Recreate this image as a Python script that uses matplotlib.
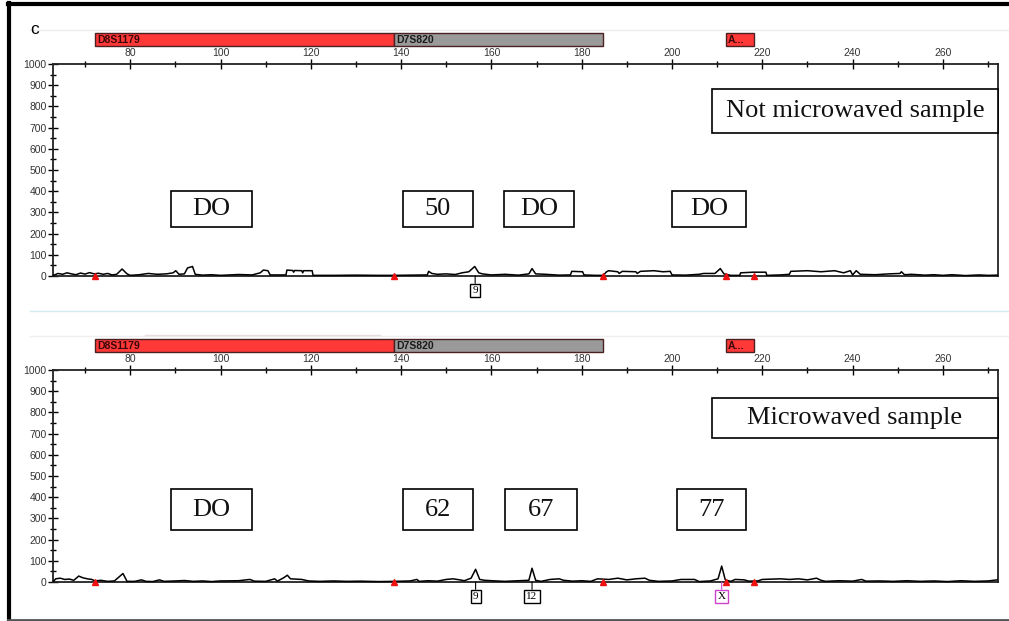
import matplotlib
matplotlib.use("Agg")
import matplotlib.pyplot as plt
from matplotlib.patches import Rectangle
from matplotlib.lines import Line2D
from matplotlib.ticker import MultipleLocator
import matplotlib.transforms as mtransforms

# ---------------- data ----------------
panel_titles = ["Not microwaved sample", "Microwaved sample"]

marker_names = ["D8S1179", "D7S820", "A..."]
marker_starts = [72.2, 138.5, 212.0]
marker_ends = [138.5, 184.8, 218.2]
marker_colors = ["#ff3838", "#9a9a9a", "#ff3838"]
bin_edges = [72.2, 138.5, 184.8, 212.0, 218.2]

x_ticks = [80, 100, 120, 140, 160, 180, 200, 220, 240, 260]
y_ticks = [0, 100, 200, 300, 400, 500, 600, 700, 800, 900, 1000]

trace1_bp = [63, 64, 65, 66, 67, 68, 69, 70, 71, 72, 73, 74, 75, 76, 77, 78.2, 79.3, 80, 82, 84, 86, 88,
             89.5, 90.1, 90.8, 92, 92.7, 93.8, 94.4, 96, 98, 100, 104, 107, 108.8, 109.5, 110.5, 111,
             114.5, 114.7, 116, 116.2, 116.4, 118, 118.2, 118.4, 120.3, 120.5, 125, 130, 135, 138.5, 142,
             145.8, 146.1, 146.8, 148, 150, 152, 153.5, 155, 156.3, 157.2, 158, 160, 163, 166, 168.3, 169,
             169.8, 172, 175, 177.5, 177.8, 180.2, 180.5, 183, 184.8, 185.5, 186, 188, 188.3, 189, 192,
             192.3, 193, 196, 198, 199.6, 200, 203, 206, 207, 209.5, 210.7, 211.5, 213, 215, 215.2, 218,
             220.8, 221, 224, 226, 226.3, 230, 233, 236, 238, 239.5, 240, 240.8, 241.7, 245, 248, 250.5,
             250.8, 251.5, 253, 256, 258, 260, 262, 265, 268, 270, 272]
trace1_rfu = [3, 12, 8, 15, 10, 6, 14, 9, 16, 10, 13, 8, 12, 5, 8, 33, 10, 3, 6, 12, 8, 10,
              15, 25, 8, 10, 38, 45, 8, 4, 6, 3, 7, 5, 15, 28, 25, 5,
              5, 28, 26, 18, 26, 25, 15, 25, 25, 3, 3, 4, 3, 3, 4,
              5, 22, 12, 8, 10, 7, 15, 20, 45, 15, 10, 5, 8, 4, 10, 35,
              10, 8, 4, 5, 22, 20, 5, 3, 3, 20, 25, 20, 12, 22, 20,
              12, 22, 25, 20, 22, 5, 4, 8, 12, 12, 35, 10, 3, 3, 15, 18,
              18, 3, 5, 8, 22, 25, 20, 25, 15, 25, 5, 25, 8, 6, 10, 12,
              20, 6, 8, 4, 6, 3, 6, 2, 5, 3, 4]

trace2_bp = [63, 63.5, 64.5, 65.5, 66.5, 67.5, 68.6, 69.5, 70.5, 71.5, 72.2, 73.5, 75, 76.5, 78.4, 79.3,
             81, 82.5, 83.5, 85, 86.5, 87.5, 90, 92, 94, 96, 98, 100, 104, 106.5, 107.5, 110, 112, 112.6,
             114, 114.8, 115.5, 118, 119.5, 122, 125, 128, 131, 135, 138.5, 142, 143.5, 144, 146, 148, 150,
             151.5, 153, 154, 155.5, 156.5, 157.4, 158.5, 161, 163, 166, 168.3, 169, 169.8, 171, 173, 175,
             176, 178, 180, 182, 183.5, 186, 188, 190, 192, 194, 195, 197, 200, 202, 205, 206, 208.5,
             210.2, 211, 211.8, 213, 214, 216, 217, 219, 220, 224, 226, 228, 230, 232, 233, 234, 237, 240,
             242, 243, 246, 249, 252, 255, 258, 261, 264, 267, 270, 272]
trace2_rfu = [3, 15, 18, 12, 14, 8, 28, 20, 15, 12, 5, 8, 3, 5, 40, 3,
              3, 10, 3, 2, 10, 3, 5, 7, 3, 5, 2, 5, 6, 12, 4, 3, 15, 4,
              20, 32, 15, 12, 5, 3, 5, 3, 4, 2, 3, 5, 12, 3, 6, 4, 12,
              15, 10, 6, 18, 60, 12, 8, 5, 3, 6, 8, 65, 8, 3, 12, 15,
              8, 4, 6, 3, 15, 12, 18, 10, 15, 18, 8, 3, 5, 12, 12, 2, 5,
              15, 75, 10, 3, 12, 10, 4, 5, 12, 15, 12, 15, 10, 18, 8, 3, 6, 4,
              12, 4, 5, 3, 6, 3, 5, 2, 6, 3, 5, 10]

peak_labels = [[("9", 156.4, "black")],
               [("9", 156.5, "black"), ("12", 169.0, "black"), ("X", 211.0, "#cc44cc")]]

allele_labels = [["DO", "50", "DO", "DO"], ["DO", "62", "67", "77"]]

# ---------------- layout ----------------
W, H = 1009, 621
fig = plt.figure(figsize=(W / 100, H / 100), dpi=100)


def fx(px):
    return px / W


def fy(py):
    return 1 - py / H


def fig_line(x0, x1, y0, y1, **kw):
    fig.add_artist(Line2D([fx(x0), fx(x1)], [fy(y0), fy(y1)], transform=fig.transFigure, **kw))


def fig_box(x0, y0, x1, y1, text, size):
    fig.add_artist(Rectangle((fx(x0), fy(y1)), fx(x1) - fx(x0), fy(y0) - fy(y1),
                             transform=fig.transFigure, fill=True, facecolor="white",
                             edgecolor="black", lw=1.2))
    fig.text(fx((x0 + x1) / 2), fy((y0 + y1) / 2), text, ha="center", va="center",
             fontsize=size, family="Liberation Serif", color="#111111")


# faint separators and frame
fig_line(30, 1009, 30, 30, color="#ececec", lw=1)
fig_line(30, 1009, 311, 311, color="#d3eaf1", lw=1)
fig_line(30, 1009, 336, 336, color="#efefef", lw=1)
fig_line(145, 380, 335, 335, color="#e6dddd", lw=1)
fig_line(9, 9, 3, 621, color="black", lw=3)
fig_line(8, 1009, 4, 4, color="black", lw=3)
fig_line(8, 1009, 619.5, 619.5, color="#555555", lw=2)

fig.text(fx(30), fy(30), "c", fontsize=12.5, family="Liberation Sans", ha="left", va="center")

panel_tops = [64, 370]
panel_bottoms = [276, 582]
traces = [(trace1_bp, trace1_rfu), (trace2_bp, trace2_rfu)]
title_boxes = [(712, 89, 998, 133, 19), (712, 398, 998, 438, 19)]
allele_boxes = [[(171, 191, 252, 227), (403, 191, 473, 227), (504, 191, 574, 227), (672, 191, 746, 227)],
                [(171, 489, 252, 530), (403, 489, 473, 530), (505, 489, 577, 530), (677, 489, 746, 530)]]

for i in range(2):
    top, bot = panel_tops[i], panel_bottoms[i]
    ax = fig.add_axes([fx(53), fy(bot), fx(998) - fx(53), (bot - top) / H])
    ax.set_xlim(62.9, 272.2)
    ax.set_ylim(0, 1000)
    bp, rfu = traces[i]
    ax.plot(bp, rfu, color="black", lw=1.1, clip_on=False, zorder=3)

    for s in ax.spines.values():
        s.set_linewidth(1.3)
        s.set_color("#222222")

    ax.xaxis.set_ticks_position("top")
    ax.set_xticks(x_ticks)
    ax.set_xticklabels([str(v) for v in x_ticks])
    ax.xaxis.set_minor_locator(MultipleLocator(10))
    ax.set_yticks(y_ticks)
    ax.set_yticklabels([str(v) for v in y_ticks])
    ax.yaxis.set_minor_locator(MultipleLocator(50))
    ax.tick_params(axis="x", which="major", direction="inout", length=7, width=1, pad=1,
                   labelsize=7.5, labelcolor="#333333", top=True, bottom=False)
    ax.tick_params(axis="x", which="minor", direction="inout", length=5, width=1, top=True, bottom=False)
    ax.tick_params(axis="y", which="major", direction="inout", length=7, width=1, pad=1,
                   labelsize=7.5, labelcolor="#333333")
    ax.tick_params(axis="y", which="minor", direction="inout", length=5, width=1)
    for lab in ax.get_xticklabels() + ax.get_yticklabels():
        lab.set_family("Liberation Sans")

    # marker bars above axis
    trans = mtransforms.blended_transform_factory(ax.transData, ax.transAxes)
    for name, s0, e0, c in zip(marker_names, marker_starts, marker_ends, marker_colors):
        ax.add_patch(Rectangle((s0, 1.085), e0 - s0, 0.061, transform=trans, facecolor=c,
                               edgecolor="#4a2020", lw=1, clip_on=False))
        ax.text(s0 + 0.4, 1.115, name, transform=trans, fontsize=7.5, fontweight="bold",
                family="Liberation Sans", color="#3a0808" if c != "#9a9a9a" else "#1a1a1a",
                ha="left", va="center", clip_on=False)

    # bin edge markers
    ax.plot(bin_edges, [0] * len(bin_edges), linestyle="none", marker="^", color="#ee1111",
            markersize=5, clip_on=False, zorder=4)

    # peak labels
    for lab, xv, col in peak_labels[i]:
        ax.annotate(lab, xy=(xv, 0), xytext=(0, -10.5), textcoords="offset points",
                    ha="center", va="center", fontsize=8, family="Liberation Serif", color="black",
                    bbox=dict(boxstyle="square,pad=0.2", facecolor="white", edgecolor=col, lw=1),
                    arrowprops=dict(arrowstyle="-", color=col, lw=0.8, shrinkA=0, shrinkB=0),
                    annotation_clip=False)

    x0, y0, x1, y1, sz = title_boxes[i]
    fig_box(x0, y0, x1, y1, panel_titles[i], sz)
    for (bx0, by0, bx1, by1), txt in zip(allele_boxes[i], allele_labels[i]):
        fig_box(bx0, by0, bx1, by1, txt, sz)

fig.savefig("out.png", dpi=100)
